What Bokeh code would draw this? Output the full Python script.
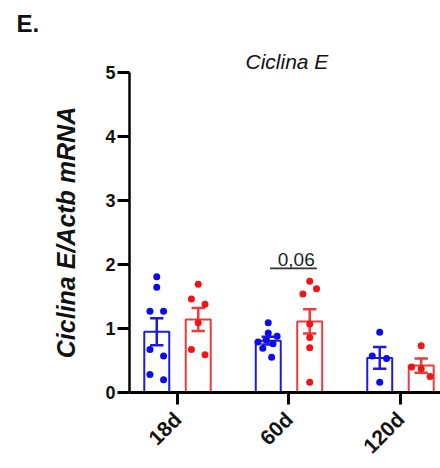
import numpy as np
from bokeh.plotting import figure
from bokeh.models import Range1d, FixedTicker, Label, Title
from bokeh.embed import file_html
from bokeh.resources import INLINE

# ---------------- data ----------------
ages = ["18d", "60d", "120d"]

blue_points = [
    [1.81, 1.645, 1.27, 1.27, 0.67, 0.57, 0.28, 0.20],
    [1.09, 0.93, 0.88, 0.82, 0.79, 0.76, 0.69, 0.55],
    [0.94, 0.57, 0.53, 0.16],
]
red_points = [
    [1.69, 1.46, 1.38, 1.09, 0.67, 0.59],
    [1.74, 1.62, 1.54, 1.07, 0.86, 0.70, 0.16],
    [0.73, 0.40, 0.37, 0.25],
]
blue_mean = [0.95, 0.81, 0.54]
blue_sem = [0.21, 0.06, 0.17]
red_mean = [1.14, 1.11, 0.42]
red_sem = [0.18, 0.19, 0.11]

sig_group = 1
sig_text = "0,06"
sig_level = 1.94

# ---------------- layout / style ----------------
blue_swarm = [[0, 0, -1, 1, -1, 1, -1, 1],
              [0, 0, 1.3, -0.3, -1.5, 0.7, -0.8, 0.5],
              [0, -1.1, 1, 0]]
red_swarm = [[0, -1, 1, 0, -1, 1],
             [0, 1, -1, 0, 0, 0, 0],
             [0, -1.4, 0, 1.3]]
swarm_step = 0.061
bar_offset = 0.186
bar_width = 0.224
cap_width = 0.12

BLUE_BAR = "#1c1ce0"
BLUE_DOT = "#0a0af2"
RED_BAR = "#ee3a3a"
RED_DOT = "#f01414"
FONT = "Liberation Sans"

p = figure(width=440, height=468, output_backend="svg", toolbar_location=None,
           x_range=Range1d(-0.4305, 2.359), y_range=Range1d(0, 5),
           min_border_left=129, min_border_right=0, min_border_top=72,
           min_border_bottom=76)
p.outline_line_color = None
p.xgrid.visible = False
p.ygrid.visible = False
p.background_fill_color = "white"

series = [
    (blue_points, blue_mean, blue_sem, blue_swarm, -bar_offset, BLUE_BAR, BLUE_DOT),
    (red_points, red_mean, red_sem, red_swarm, bar_offset, RED_BAR, RED_DOT),
]

for pts, mean, sem, swarm, off, cbar, cdot in series:
    xs = [i + off for i in range(len(ages))]
    p.vbar(x=xs, top=mean, bottom=0, width=bar_width, fill_color=None,
           line_color=cbar, line_width=2)
    lo = [m - s for m, s in zip(mean, sem)]
    hi = [m + s for m, s in zip(mean, sem)]
    p.segment(x0=xs, x1=xs, y0=lo, y1=hi, line_color=cbar, line_width=2.5)
    p.segment(x0=[x - cap_width / 2 for x in xs], x1=[x + cap_width / 2 for x in xs],
              y0=hi, y1=hi, line_color=cbar, line_width=2.5)
    p.segment(x0=[x - cap_width / 2 for x in xs], x1=[x + cap_width / 2 for x in xs],
              y0=lo, y1=lo, line_color=cbar, line_width=2.5)
    dx, dy = [], []
    for i, (g, sw) in enumerate(zip(pts, swarm)):
        for v, s in zip(g, sw):
            dx.append(i + off + s * swarm_step)
            dy.append(v)
    p.scatter(x=dx, y=dy, size=7, fill_color=cdot, line_color=None)

# significance bracket
p.segment(x0=[sig_group - 0.17], x1=[sig_group + 0.25], y0=[sig_level], y1=[sig_level],
          line_color="#333333", line_width=1.6)
p.add_layout(Label(x=sig_group + 0.065, y=sig_level + 0.04, text=sig_text,
                   text_align="center", text_baseline="bottom",
                   text_font=FONT, text_font_size="19px", text_color="#222222"))

# titles (later-added titles sit closer to the frame)
p.title.text = "E."
p.title.align = "left"
p.title.offset = -113
p.title.text_font = FONT
p.title.text_font_size = "24px"
p.title.text_font_style = "bold"
p.title.text_color = "#111111"
p.title.vertical_align = "top"
p.title.standoff = 18
p.add_layout(Title(text="Ciclina E", align="left", offset=116, text_font=FONT,
                   text_font_size="21px", text_font_style="italic",
                   text_color="#111111", standoff=0), "above")

# axes
xa = p.xaxis[0]
xa.ticker = FixedTicker(ticks=list(range(len(ages))))
xa.major_label_overrides = {i: a for i, a in enumerate(ages)}
xa.major_label_orientation = np.pi / 4
xa.major_label_text_font = FONT
xa.major_label_text_font_size = "21px"
xa.major_label_text_font_style = "bold"
xa.major_label_text_color = "#111111"
xa.axis_line_width = 3
xa.major_tick_line_width = 3
xa.major_tick_out = 12
xa.major_tick_in = 0
xa.minor_tick_line_color = None
xa.major_label_standoff = 11

ya = p.yaxis[0]
ya.ticker = FixedTicker(ticks=[0, 1, 2, 3, 4, 5])
ya.major_label_text_font = FONT
ya.major_label_text_font_size = "18px"
ya.major_label_text_font_style = "bold"
ya.major_label_text_color = "#111111"
ya.axis_line_width = 2.5
ya.major_tick_line_width = 3
ya.major_tick_out = 12
ya.major_tick_in = 0
ya.minor_tick_line_color = None
ya.major_label_standoff = 2
ya.axis_label = "Ciclina E/Actb mRNA"
ya.axis_label_text_font = FONT
ya.axis_label_text_font_size = "25px"
ya.axis_label_text_font_style = "bold italic"
ya.axis_label_text_color = "#111111"
ya.axis_label_standoff = 22

open("out.html", "w").write(file_html(p, INLINE))
